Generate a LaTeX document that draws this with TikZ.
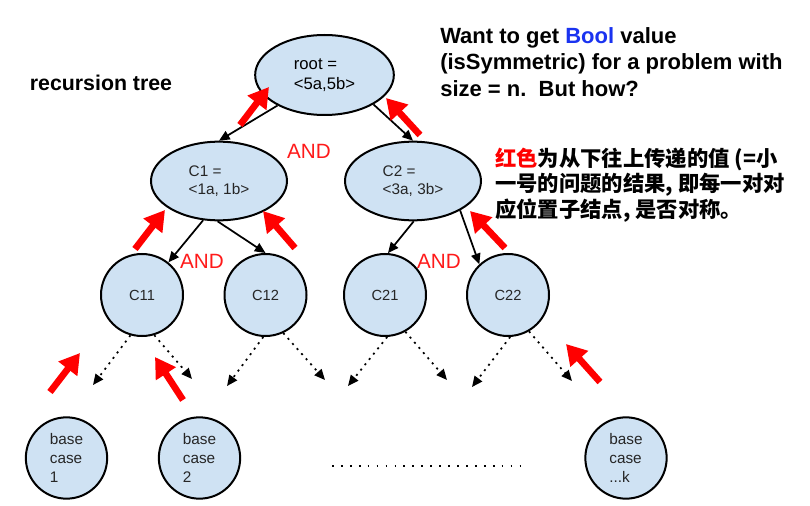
\documentclass[tikz,border=0pt]{standalone}
\usepackage{fontspec}
\setmainfont{Liberation Sans}
\newfontfamily\cjk{Noto Sans CJK SC}
\usepackage{xcolor}
\usepackage{tikz}
\usetikzlibrary{shapes.geometric,arrows.meta}

\definecolor{nodeblue}{HTML}{CFE2F3}
\definecolor{boolblue}{HTML}{1A33F0}
\definecolor{andred}{HTML}{FF1A1A}

\begin{document}
\begin{tikzpicture}[x=0.75pt, y=-0.75pt,
    bigbox/.style={ellipse, draw, line width=1.5pt, fill=nodeblue, inner sep=0pt,
        minimum width=102pt, minimum height=59pt, align=left,
        font=\fontsize{11.5}{14}\selectfont},
    smallbox/.style={circle, draw, line width=1.5pt, fill=nodeblue, inner sep=0pt,
        minimum size=61.5pt, align=left, text=black!85,
        font=\fontsize{11}{13}\selectfont},
    basebox/.style={smallbox, minimum size=61pt,
        font=\fontsize{11.5}{14.25}\selectfont},
    link/.style={-{Triangle[length=8pt,width=7pt]}, line width=1.3pt},
    dotlink/.style={link, dash pattern=on 1.5pt off 3.6pt},
    uparrow/.style={-{Triangle[length=15pt,width=17pt]}, line width=5pt, red},
    andlabel/.style={text=andred, font=\fontsize{15.5}{18}\selectfont}]

    \useasboundingbox (0,0) rectangle (810,506);

    % Titles
    \node[font=\fontsize{16}{19}\selectfont\bfseries] (title) at (101,83) {recursion tree};
    \node[anchor=west, align=left, inner sep=0pt,
          font=\fontsize{16.5}{20}\selectfont\bfseries] (question) at (440,62)
        {Want to get {\color{boolblue}Bool} value\\
         (isSymmetric) for a problem with\\
         size = n.\ \ But how?};
    \node[anchor=west, align=left, inner sep=0pt,
          font=\fontsize{16}{19}\selectfont\cjk\bfseries] (note) at (495,185)
        {{\color{red}红色}为从下往上传递的值 (=小\\
         一号的问题的结果,\ 即每一对对\\
         应位置子结点,\ 是否对称。};

    % Tree: root and first level
    \node[bigbox, minimum width=104pt, minimum height=60pt,
          font=\fontsize{12.5}{15}\selectfont] (root) at (324.5,75) {root =\\<5a,5b>};
    \node[bigbox, text=black!85] (c1) at (219,181) {C1 =\\<1a, 1b>};
    \node[bigbox, text=black!85] (c2) at (413,181) {C2 =\\<3a, 3b>};

    % Second level
    \node[smallbox] (c11) at (142,295) {C11};
    \node[smallbox] (c12) at (265.5,295) {C12};
    \node[smallbox] (c21) at (385,295) {C21};
    \node[smallbox] (c22) at (508,295) {C22};

    % Base cases
    \node[basebox] (base1) at (66.5,458) {base\\case\\1};
    \node[basebox] (base2) at (199.5,458) {base\\case\\2};
    \node[basebox] (basek) at (626,458) {base\\case\\...k};
    \draw[line width=1.2pt, dash pattern=on 1.3pt off 5.4pt] (332,466) -- (523,466);

    % AND labels
    \node[andlabel] (and1) at (309,151) {AND};
    \node[andlabel] (and2) at (202,261) {AND};
    \node[andlabel] (and3) at (439,261) {AND};

    % Solid calls
    \draw[link] (root.213) -- (c1.north);
    \draw[link] (root.329) -- (c2.north);
    \draw[link] (c1.248) -- (c11.51);
    \draw[link] (c1.268) -- (c12.north);
    \draw[link] (c2.271) -- (c21.86);
    \draw[link] (c2.328) -- (c22.133);

    % Dotted calls towards the base cases
    \coordinate (e11a) at (93,385);
    \coordinate (e11b) at (192,379);
    \coordinate (e12a) at (227,386);
    \coordinate (e12b) at (325,380);
    \coordinate (e21a) at (348,386);
    \coordinate (e21b) at (447,380);
    \coordinate (e22a) at (472,387);
    \coordinate (e22b) at (572,381);
    \draw[dotlink] (c11.254) -- (e11a);
    \draw[dotlink] (c11.287) -- (e11b);
    \draw[dotlink] (c12.267) -- (e12a);
    \draw[dotlink] (c12.295) -- (e12b);
    \draw[dotlink] (c21.273) -- (e21a);
    \draw[dotlink] (c21.299) -- (e21b);
    \draw[dotlink] (c22.273) -- (e22a);
    \draw[dotlink] (c22.300) -- (e22b);

    % Red arrows: results passed back up
    \draw[uparrow] (240,125) -- (269,87);
    \draw[uparrow] (420,135) -- (386,98);
    \draw[uparrow] (135,249) -- (165,210);
    \draw[uparrow] (295,248) -- (263,211);
    \draw[uparrow] (505,248) -- (470,211);
    \draw[uparrow] (50,392) -- (80,353);
    \draw[uparrow] (183,400) -- (155,357);
    \draw[uparrow] (600,382) -- (566,344);

\end{tikzpicture}
\end{document}
